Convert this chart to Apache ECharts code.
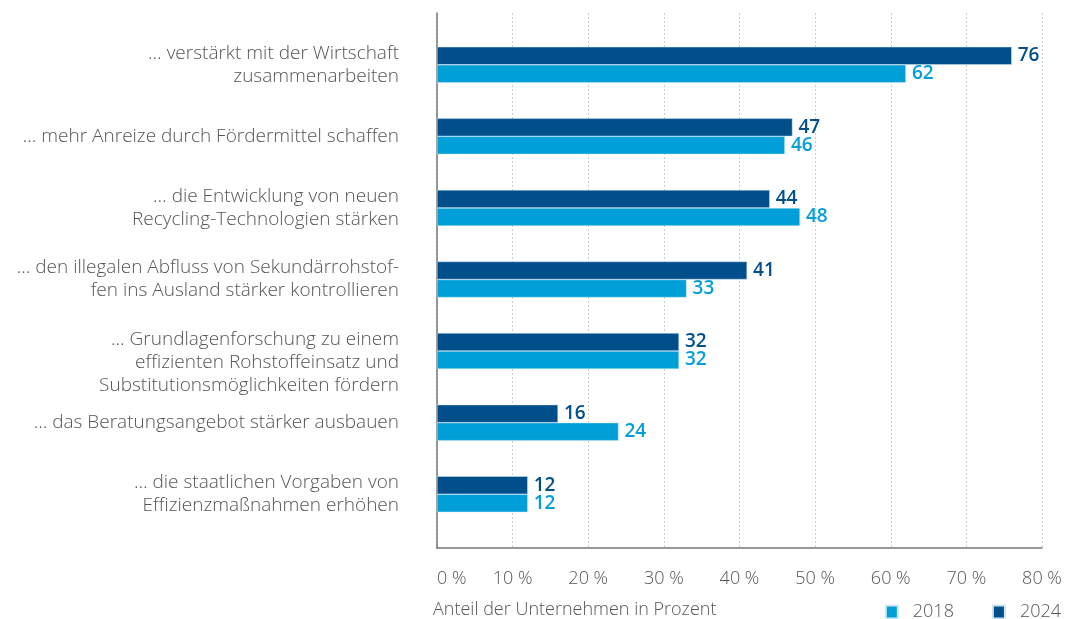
<!DOCTYPE html>
<html>
<head>
<meta charset="utf-8">
<script src="https://cdn.jsdelivr.net/npm/echarts@6/dist/echarts.min.js"></script>
<style>
  html, body { margin: 0; padding: 0; background: #fff; }
  #chart { width: 1068px; height: 619px; }
</style>
</head>
<body>
<div id="chart"></div>
<script>
// Kategorien (von oben nach unten)
const categories = [
  '… verstärkt mit der Wirtschaft\nzusammenarbeiten',
  '… mehr Anreize durch Fördermittel schaffen',
  '… die Entwicklung von neuen\nRecycling-Technologien stärken',
  '… den illegalen Abfluss von Sekundärrohstof-\nfen ins Ausland stärker kontrollieren',
  '… Grundlagenforschung zu einem\neffizienten Rohstoffeinsatz und\nSubstitutionsmöglichkeiten fördern',
  '… das Beratungsangebot stärker ausbauen',
  '… die staatlichen Vorgaben von\nEffizienzmaßnahmen erhöhen'
]
const values2018 = [62, 46, 48, 33, 32, 24, 12]
const values2024 = [76, 47, 44, 41, 32, 16, 12]
const xTicks = [0, 10, 20, 30, 40, 50, 60, 70, 80]

const FONT = '"Open Sans", sans-serif'
const LIGHT = '#009fd7'
const DARK = '#004f8b'

let chart = echarts.init(document.getElementById('chart'))

let option = {
  animation: false,
  textStyle: { fontFamily: FONT },
  title: {
    text: 'Anteil der Unternehmen in Prozent',
    left: 428,
    top: 596,
    textStyle: { fontFamily: FONT, fontSize: 18, fontWeight: 300, color: '#555' }
  },
  legend: {
    data: ['2018', '2024'],
    right: 2,
    top: 598,
    icon: 'rect',
    itemWidth: 12,
    itemHeight: 13,
    itemGap: 38,
    textStyle: { fontFamily: FONT, fontSize: 18, fontWeight: 300, color: '#555', padding: [0, 0, 0, 10] }
  },
  grid: [
    // Rahmen mit Achsen und Gitterlinien
    { left: 437, right: 26, top: 13, bottom: 71 },
    // Balkenbereich
    { left: 437, right: 26, top: 29, bottom: 89 }
  ],
  xAxis: [
    {
      gridIndex: 0,
      type: 'value',
      min: xTicks[0],
      max: xTicks[xTicks.length - 1],
      interval: 10,
      axisLine: { show: true, lineStyle: { color: '#777', width: 1.5 } },
      axisTick: { show: false },
      axisLabel: {
        margin: 22,
        fontFamily: FONT,
        fontSize: 18,
        fontWeight: 300,
        color: '#555',
        alignMinLabel: 'left',
        formatter: v => v + ' %'
      },
      splitLine: { show: true, lineStyle: { color: '#ccc', type: [2, 2], width: 1 } }
    },
    {
      gridIndex: 1,
      type: 'value',
      min: xTicks[0],
      max: xTicks[xTicks.length - 1],
      show: false
    }
  ],
  yAxis: [
    {
      gridIndex: 0,
      type: 'value',
      axisLine: { show: true, onZero: false, lineStyle: { color: '#777', width: 1.5 } },
      axisTick: { show: false },
      axisLabel: { show: false },
      splitLine: { show: false }
    },
    {
      gridIndex: 1,
      type: 'category',
      inverse: true,
      data: categories,
      axisLine: { show: false },
      axisTick: { show: false },
      axisLabel: {
        margin: 38,
        fontFamily: FONT,
        fontSize: 19,
        fontWeight: 300,
        lineHeight: 23,
        color: '#555',
        align: 'right',
        // dreizeilige Beschriftung sitzt im Original etwas tiefer
        formatter: (v, i) => (v.split('\n').length > 2 ? '\n' + v : v)
      }
    }
  ],
  series: [
    {
      name: '2024',
      type: 'bar',
      xAxisIndex: 1,
      yAxisIndex: 1,
      data: values2024,
      barWidth: 18,
      barGap: '0%',
      itemStyle: { color: DARK, borderColor: '#cfe3f0', borderWidth: 0.5 },
      label: {
        show: true,
        position: 'right',
        distance: 6,
        fontFamily: FONT,
        fontSize: 19,
        fontWeight: 600,
        color: DARK
      }
    },
    {
      name: '2018',
      type: 'bar',
      xAxisIndex: 1,
      yAxisIndex: 1,
      data: values2018,
      barWidth: 18,
      barGap: '0%',
      itemStyle: { color: LIGHT, borderColor: '#cfeaf6', borderWidth: 0.5 },
      label: {
        show: true,
        position: 'right',
        distance: 6,
        fontFamily: FONT,
        fontSize: 19,
        fontWeight: 600,
        color: LIGHT
      }
    }
  ]
}
chart.setOption(option)
</script>
</body>
</html>
